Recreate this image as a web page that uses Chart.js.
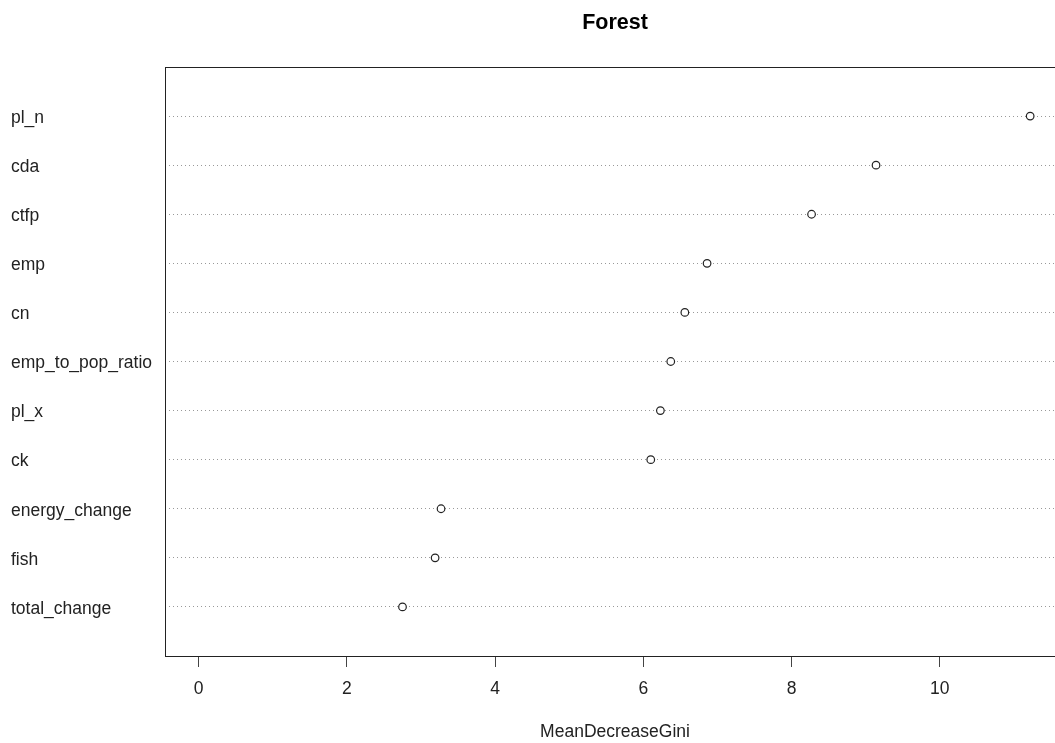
<!DOCTYPE html>
<html>
<head>
<meta charset="utf-8">
<title>Forest</title>
<script src="https://cdn.jsdelivr.net/npm/chart.js@4/dist/chart.umd.min.js"></script>
<style>
  html, body { margin: 0; padding: 0; background: #fff; overflow: hidden; }
  #wrap { width: 1055px; height: 743px; overflow: hidden; }
</style>
</head>
<body>
<div id="wrap"><canvas id="chart" width="1070" height="743"></canvas></div>
<script>
// --- DATA ---
const features = ['pl_n', 'cda', 'ctfp', 'emp', 'cn', 'emp_to_pop_ratio', 'pl_x', 'ck', 'energy_change', 'fish', 'total_change'];
const meanDecreaseGini = [11.22, 9.14, 8.27, 6.86, 6.56, 6.37, 6.23, 6.10, 3.27, 3.19, 2.75];
const xTicks = [0, 2, 4, 6, 8, 10];

const FONT = "Arial, 'Liberation Sans', sans-serif";
const INK = '#222';

// R style box round the plot region
const boxPlugin = {
    id: 'box',
    afterDraw(chart) {
        const a = chart.chartArea;
        const c = chart.ctx;
        c.save();
        c.strokeStyle = INK;
        c.lineWidth = 1;
        c.strokeRect(Math.round(a.left) + 0.5, Math.round(a.top) + 0.5, Math.round(a.right - a.left), Math.round(a.bottom - a.top));
        c.restore();
    }
};

const points = features.map((f, i) => ({ x: meanDecreaseGini[i], y: i + 1 }));

new Chart(document.getElementById('chart').getContext('2d'), {
    type: 'scatter',
    data: {
        datasets: [{
            data: points,
            pointRadius: 3.8,
            pointBorderWidth: 1.2,
            pointBorderColor: INK,
            pointBackgroundColor: '#fff',
            pointHoverRadius: 3.8
        }]
    },
    options: {
        responsive: false,
        animation: false,
        layout: { padding: { left: 11, right: 5, top: 0, bottom: 0 } },
        plugins: {
            legend: { display: false },
            tooltip: { enabled: false },
            title: {
                display: true,
                text: 'Forest',
                fullSize: false,
                color: '#000',
                font: { family: FONT, size: 21.5, weight: 'bold' },
                padding: { top: 10, bottom: 31.2 }
            }
        },
        scales: {
            x: {
                type: 'linear',
                min: -0.455,
                max: 11.69,
                afterBuildTicks: s => { s.ticks = xTicks.map(v => ({ value: v })); },
                afterFit: s => { s.height = 87; },
                border: { display: false },
                grid: { drawOnChartArea: false, drawTicks: true, tickLength: 11, color: '#444', lineWidth: 1 },
                ticks: { color: INK, padding: 12, font: { family: FONT, size: 17.5 } },
                title: {
                    display: true,
                    text: 'MeanDecreaseGini',
                    color: INK,
                    font: { family: FONT, size: 17.5 },
                    padding: { top: 0, bottom: 0 }
                }
            },
            y: {
                type: 'linear',
                min: 0,
                max: 12,
                reverse: true,
                afterBuildTicks: s => { s.ticks = features.map((f, i) => ({ value: i + 1 })); },
                afterFit: s => { s.width = 154; },
                border: { display: false, dash: [1, 3] },
                grid: { drawTicks: false, color: '#999999', lineWidth: 1 },
                ticks: {
                    color: INK,
                    crossAlign: 'far',
                    labelOffset: 2,
                    font: { family: FONT, size: 17.5 },
                    callback: v => features[v - 1]
                }
            }
        }
    },
    plugins: [boxPlugin]
});
</script>
</body>
</html>
